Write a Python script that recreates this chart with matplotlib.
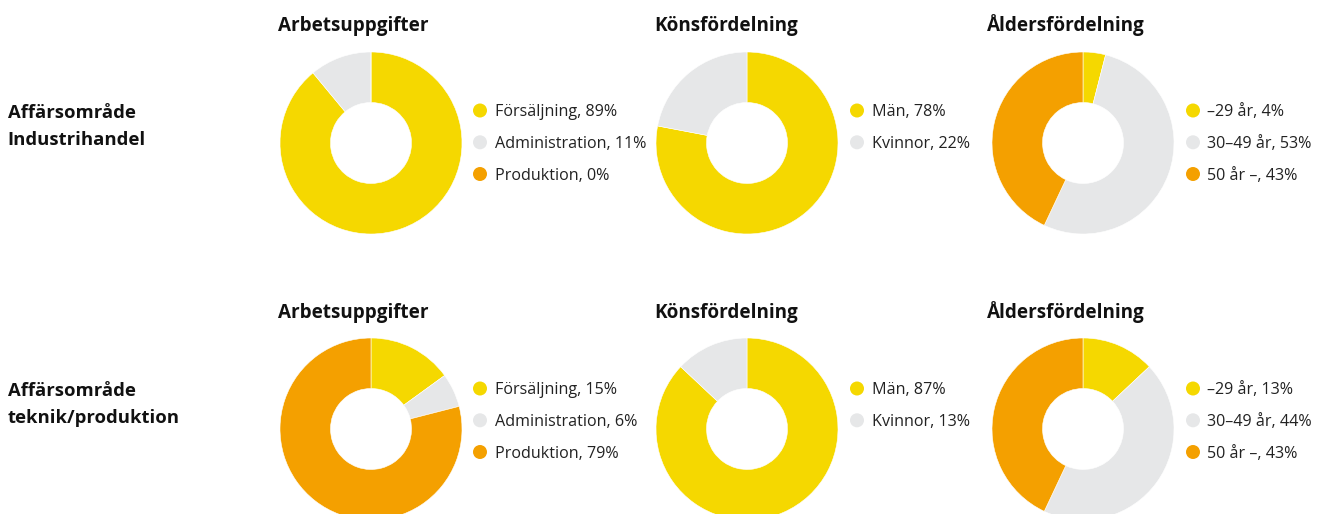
import matplotlib
matplotlib.use("Agg")
import matplotlib.pyplot as plt

W, H = 1326, 514

# ---- data ----
row_labels = ["Affärsområde\nIndustrihandel", "Affärsområde\nteknik/produktion"]
chart_titles = ["Arbetsuppgifter", "Könsfördelning", "Åldersfördelning"]

task_labels = ["Försäljning", "Administration", "Produktion"]
gender_labels = ["Män", "Kvinnor"]
age_labels = ["\u201329 år", "30\u201349 år", "50 år \u2013"]

tasks_industri = [89, 11, 0]
gender_industri = [78, 22]
age_industri = [4, 53, 43]

tasks_teknik = [15, 6, 79]
gender_teknik = [87, 13]
age_teknik = [13, 44, 43]

YELLOW = "#F5D800"
GRAY = "#E6E7E8"
ORANGE = "#F4A000"
task_colors = [YELLOW, GRAY, ORANGE]
gender_colors = [YELLOW, GRAY]
age_colors = [YELLOW, GRAY, ORANGE]

rows = [
    [(tasks_industri, task_labels, task_colors),
     (gender_industri, gender_labels, gender_colors),
     (age_industri, age_labels, age_colors)],
    [(tasks_teknik, task_labels, task_colors),
     (gender_teknik, gender_labels, gender_colors),
     (age_teknik, age_labels, age_colors)],
]

plt.rcParams['font.family'] = ['Open Sans', 'DejaVu Sans']

fig = plt.figure(figsize=(W / 100, H / 100), dpi=100)
fig.patch.set_facecolor("white")

def fx(x):
    return x / W

def fy(y):
    return 1 - y / H

col_cx = [371, 747, 1083]
row_cy = [143, 429]
R = 91
inner = 40.5
title_x = [278, 654, 987]
title_base = [31, 318]
legend_marker_x = [480, 857, 1193]
legend_text_x = [495, 872, 1207]
legend_base = [[116.5, 148.3, 180], [394.5, 426.3, 458]]
rowlab_base = [[118, 145], [396, 423]]

for r, row in enumerate(rows):
    lines = row_labels[r].split("\n")
    for i, ln in enumerate(lines):
        fig.text(fx(7.5), fy(rowlab_base[r][i]), ln, fontsize=13.3, fontweight="bold",
                 va="baseline", ha="left", color="#111111")
    for c, (vals, labs, cols) in enumerate(row):
        cx, cy = col_cx[c], row_cy[r]
        ax = fig.add_axes([fx(cx - R), fy(cy + R), 2 * R / W, 2 * R / H])
        ax.pie(vals, colors=cols, startangle=90, counterclock=False, radius=1,
               wedgeprops=dict(width=1 - inner / R, edgecolor="white", linewidth=0.4))
        ax.set_xlim(-1, 1)
        ax.set_ylim(-1, 1)
        ax.set_aspect("equal")
        ax.axis("off")
        fig.text(fx(title_x[c]), fy(title_base[r]), chart_titles[c], fontsize=13.6,
                 fontweight="bold", va="baseline", ha="left", color="#111111")
        for i, (v, lab, col) in enumerate(zip(vals, labs, cols)):
            yb = legend_base[r][i]
            fig.text(fx(legend_text_x[c]), fy(yb), f"{lab}, {v}%", fontsize=11.6,
                     va="baseline", ha="left", color="#222222")
            fig.patches.append(matplotlib.patches.Ellipse(
                (fx(legend_marker_x[c]), fy(yb - 6)), 14 / W, 14 / H,
                transform=fig.transFigure, facecolor=col, edgecolor="none"))

fig.savefig("out.png", dpi=100, facecolor="white")
